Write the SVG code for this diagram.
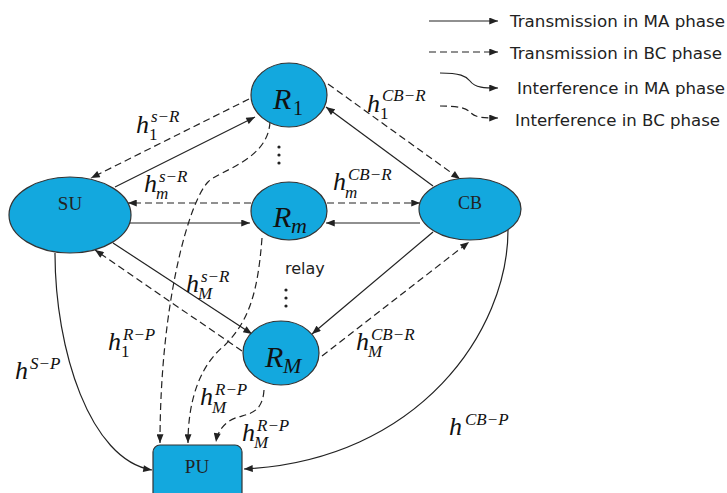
<svg xmlns="http://www.w3.org/2000/svg" width="727" height="493" viewBox="0 0 727 493">
<style>
.node{fill:#13a8de;stroke:#333;stroke-width:1.2}
.c{fill:none;stroke:#222;stroke-width:1.2;marker-end:url(#ah)}
.d{stroke-dasharray:7,4}
.lg{font-family:"DejaVu Sans",Verdana,sans-serif;font-size:16px;fill:#222}
.nl{font-family:"Liberation Serif","Times New Roman",serif;fill:#222}
.m{font-family:"Liberation Serif","Times New Roman",serif;font-style:italic;fill:#111}
.h{font-size:26px}
.s{font-size:17px}
.dot{fill:#222}
</style>
<defs>
<marker id="ah" viewBox="0 0 10 8" refX="10" refY="4" markerWidth="10" markerHeight="7" markerUnits="userSpaceOnUse" orient="auto">
<path d="M0,0 L10,4 L0,8 z" fill="#222"/>
</marker>
</defs>
<rect width="727" height="493" fill="#fff"/>
<g id="legend">
<path class="c" d="M429,21 L498,21"/>
<path class="c d" d="M429,52 L498,52"/>
<path class="c" d="M440,73 C460,73 466,76 470,81 C475,88 485,88 498,88"/>
<path class="c d" d="M440,106 C458,106 466,108 470,112 C475,118 485,118 498,118"/>
<text class="lg" x="510" y="27" textLength="215" lengthAdjust="spacingAndGlyphs">Transmission in MA phase</text>
<text class="lg" x="510" y="59" textLength="212" lengthAdjust="spacingAndGlyphs">Transmission in BC phase</text>
<text class="lg" x="517" y="94" textLength="208" lengthAdjust="spacingAndGlyphs">Interference in MA phase</text>
<text class="lg" x="515" y="126" textLength="205" lengthAdjust="spacingAndGlyphs">Interference in BC phase</text>
</g>
<g id="connectors">
<path class="c" d="M115,187 L255,117"/>
<path class="c d" d="M249,99 L91,178"/>
<path class="c d" d="M251,203 L128,203"/>
<path class="c" d="M130,223 L250,223"/>
<path class="c" d="M113,243 L252,334"/>
<path class="c d" d="M242,351 L95,250"/>
<path class="c" d="M433,186 L326,107"/>
<path class="c d" d="M328,84 L460,179"/>
<path class="c d" d="M327,203 L420,203"/>
<path class="c" d="M420,223 L326,223"/>
<path class="c" d="M433,232 L312,334"/>
<path class="c d" d="M322,356 L469,242"/>
<path class="c" d="M55,253 C55,350 90,460 152,470"/>
<path class="c" d="M508,230 C508,330 420,460 244,469"/>
<path class="c d" d="M270,122 C268,160 220,170 208,182 C190,200 160,300 160,443"/>
<path class="c d" d="M262,238 C258,290 250,320 225,345 C200,365 188,400 188,443"/>
<path class="c d" d="M264,390 C262,420 240,412 228,422 C220,428 217,435 216,442"/>
</g>
<g id="SU">
<ellipse class="node" cx="70" cy="215" rx="61" ry="38"/>
<text class="nl" x="70" y="210" font-size="19" text-anchor="middle">SU</text>
</g>
<g id="R1">
<ellipse class="node" cx="289" cy="95" rx="38" ry="32"/>
<text class="m" x="273" y="109" font-size="30">R<tspan x="293" y="115" font-style="normal" font-size="20">1</tspan></text>
</g>
<g id="Rm">
<ellipse class="node" cx="289" cy="211" rx="38" ry="29"/>
<text class="m" x="273" y="227" font-size="30">R<tspan x="291" y="233" font-size="22">m</tspan></text>
</g>
<g id="RM">
<ellipse class="node" cx="281" cy="353" rx="38" ry="32"/>
<text class="m" x="265" y="367" font-size="30">R<tspan x="283" y="373" font-size="22">M</tspan></text>
</g>
<g id="CB">
<ellipse class="node" cx="470" cy="209" rx="51" ry="31"/>
<text class="nl" x="470" y="209" font-size="18" text-anchor="middle">CB</text>
</g>
<g id="PU">
<rect class="node" x="153" y="445" width="89" height="56" rx="7"/>
<text class="nl" x="197" y="473" font-size="19" text-anchor="middle">PU</text>
</g>
<g id="relay">
<text class="lg" x="285" y="274" font-size="17">relay</text>
<circle class="dot" cx="279" cy="147" r="1.6"/>
<circle class="dot" cx="279" cy="155" r="1.6"/>
<circle class="dot" cx="279" cy="163" r="1.6"/>
<circle class="dot" cx="286" cy="290" r="1.6"/>
<circle class="dot" cx="286" cy="298" r="1.6"/>
<circle class="dot" cx="286" cy="306" r="1.6"/>
</g>
<g id="labels">
<text class="m"><tspan class="h" x="136" y="133">h</tspan><tspan class="s" x="151" y="122">s−R</tspan><tspan class="s" x="149" y="140" font-style="normal">1</tspan></text>
<text class="m"><tspan class="h" x="144" y="192">h</tspan><tspan class="s" x="159" y="182">s−R</tspan><tspan class="s" x="156" y="199">m</tspan></text>
<text class="m"><tspan class="h" x="367" y="112">h</tspan><tspan class="s" x="382" y="101">CB−R</tspan><tspan class="s" x="380" y="119" font-style="normal">1</tspan></text>
<text class="m"><tspan class="h" x="333" y="190">h</tspan><tspan class="s" x="348" y="180">CB−R</tspan><tspan class="s" x="345" y="198">m</tspan></text>
<text class="m"><tspan class="h" x="186" y="292">h</tspan><tspan class="s" x="201" y="282">s−R</tspan><tspan class="s" x="198" y="299">M</tspan></text>
<text class="m"><tspan class="h" x="108" y="350">h</tspan><tspan class="s" x="123" y="340">R−P</tspan><tspan class="s" x="121" y="357" font-style="normal">1</tspan></text>
<text class="m"><tspan class="h" x="15" y="379">h</tspan><tspan class="s" x="30" y="369">S−P</tspan></text>
<text class="m"><tspan class="h" x="200" y="405">h</tspan><tspan class="s" x="215" y="395">R−P</tspan><tspan class="s" x="212" y="413">M</tspan></text>
<text class="m"><tspan class="h" x="242" y="441">h</tspan><tspan class="s" x="257" y="431">R−P</tspan><tspan class="s" x="254" y="448">M</tspan></text>
<text class="m"><tspan class="h" x="356" y="350">h</tspan><tspan class="s" x="371" y="340">CB−R</tspan><tspan class="s" x="368" y="357">M</tspan></text>
<text class="m"><tspan class="h" x="449" y="435">h</tspan><tspan class="s" x="465" y="425">CB−P</tspan></text>
</g>
</svg>
